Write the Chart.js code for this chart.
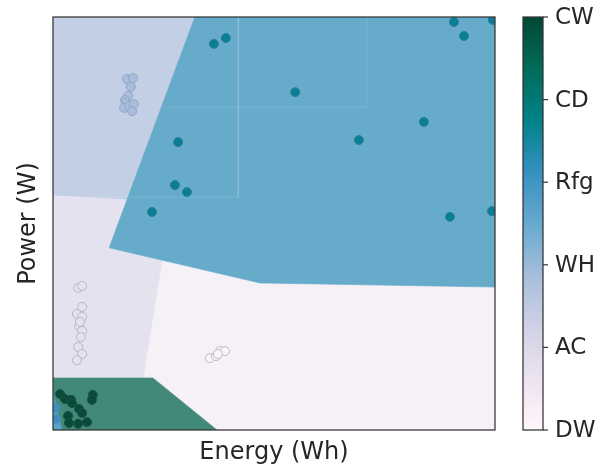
<!DOCTYPE html>
<html>
<head>
<meta charset="utf-8">
<script src="https://cdn.jsdelivr.net/npm/chart.js@4.4.1/dist/chart.umd.min.js"></script>
<style>
  html, body { margin: 0; padding: 0; background: #ffffff; }
  #wrap { width: 607px; height: 466px; }
</style>
</head>
<body>
<div id="wrap"><canvas id="chart" width="607" height="466"></canvas></div>
<script>
// Appliance classes shown on the colour bar (bottom to top)
const classLabels = ['DW', 'AC', 'WH', 'Rfg', 'CD', 'CW'];
// PuBuGn colour map stops used by the colour bar
const colorStops = ['#fff7fb', '#ece2f0', '#d0d1e6', '#a6bddb', '#67a9cf', '#3690c0', '#02818a', '#016c59', '#014636'];

// Decision regions of the classifier, as polygons in (energy, power) space
const regionDW = [[0, 0], [100, 0], [100, 100], [0, 100]];
const regionAC = [[0, 56.9], [17.0, 55.9], [12.7, 44.1], [24.7, 41.2], [20.4, 12.6], [0, 12.6]];
const regionWH = [[0, 100], [32.1, 100], [17.0, 55.9], [0, 56.9]];
const regionRfg = [[32.1, 100], [100, 100], [100, 34.6], [46.8, 35.6], [12.7, 44.1]];
const regionCW = [[0, 12.6], [22.6, 12.6], [37.1, 0], [0, 0]];
const regionRfgCorner = [[0, 8.96], [2.0, 0], [0, 0]];

// Faint seams left by the region tiles
const seams = [
  [[41.9, 100], [41.9, 56.4], [0, 56.4]],
  [[24.9, 78.2], [71.0, 78.2], [71.0, 100]],
  [[0, 18.9], [21.0, 18.9]]
];

// Measured samples per class: [energy, power]
const samplesDW = [[35.5, 17.4], [36.9, 17.9], [37.8, 19.1], [38.9, 19.1], [37.3, 18.4]];
const samplesAC = [[5.7, 34.4], [6.6, 34.9], [6.6, 29.8], [5.4, 28.1], [6.6, 27.4], [5.9, 25.2], [6.1, 26.2],
                   [6.6, 24.0], [6.3, 22.5], [5.7, 20.1], [6.6, 18.4], [5.4, 16.9]];
const samplesWH = [[16.7, 85.0], [18.1, 85.2], [17.6, 83.1], [17.0, 80.9], [16.3, 79.9], [16.5, 79.2],
                   [16.1, 78.0], [17.2, 78.5], [18.3, 78.9], [17.9, 77.2]];
const samplesRfg = [[0.5, 5.3], [0.7, 2.7]];
const samplesCD = [[36.4, 93.5], [39.1, 94.9], [28.3, 69.7], [27.6, 59.3], [30.3, 57.6], [22.4, 52.8],
                   [54.8, 81.8], [69.2, 70.2], [83.9, 74.6], [90.7, 98.8], [93.0, 95.4], [99.5, 99.3],
                   [89.8, 51.6], [99.3, 53.0]];
const samplesCW = [[1.6, 8.7], [2.7, 7.5], [4.1, 7.3], [4.3, 6.5], [9.0, 8.5], [8.8, 7.3], [5.9, 5.1],
                   [6.6, 4.1], [3.4, 3.4], [3.6, 1.7], [5.7, 1.5], [7.7, 1.9]];

const toXY = arr => arr.map(p => ({ x: p[0], y: p[1] }));
const closed = arr => toXY(arr.concat([arr[0]]));

function region(data, color, order) {
  return {
    type: 'line', data: closed(data), order,
    backgroundColor: color, borderColor: color, borderWidth: 0.6,
    fill: 'shape', pointRadius: 0, tension: 0, clip: 0
  };
}
function seam(data) {
  return {
    type: 'line', data: toXY(data), order: 4,
    borderColor: 'rgba(255,255,255,0.13)', borderWidth: 1,
    fill: false, pointRadius: 0, tension: 0, clip: 0
  };
}
function samples(data, fill, edge) {
  return {
    type: 'scatter', data: toXY(data), order: 1,
    backgroundColor: fill, borderColor: edge, borderWidth: 1,
    pointRadius: 4.5, pointHoverRadius: 4.5, clip: 0
  };
}

const FONT = "'DejaVu Sans', sans-serif";
const TEXT = '#262626';

const decor = {
  id: 'decor',
  afterDatasetsDraw(chart) {
    const { ctx, chartArea: a } = chart;
    ctx.save();
    ctx.strokeStyle = '#333333';
    ctx.lineWidth = 1.25;
    ctx.strokeRect(a.left, a.top, a.right - a.left, a.bottom - a.top);
    ctx.restore();
  },
  afterDraw(chart) {
    const { ctx, chartArea: a } = chart;
    ctx.save();
    // colour bar
    const x0 = a.right + 28, w = 20;
    const g = ctx.createLinearGradient(0, a.bottom, 0, a.top);
    colorStops.forEach((c, i) => g.addColorStop(i / (colorStops.length - 1), c));
    ctx.fillStyle = g;
    ctx.fillRect(x0, a.top, w, a.bottom - a.top);
    ctx.strokeStyle = '#333333';
    ctx.lineWidth = 1.25;
    ctx.strokeRect(x0, a.top, w, a.bottom - a.top);
    ctx.font = '23px ' + FONT;
    ctx.fillStyle = TEXT;
    ctx.textAlign = 'left';
    ctx.textBaseline = 'middle';
    classLabels.forEach((lab, i) => {
      const y = a.bottom - i / (classLabels.length - 1) * (a.bottom - a.top);
      ctx.beginPath();
      ctx.moveTo(x0 + w, y);
      ctx.lineTo(x0 + w + 5, y);
      ctx.strokeStyle = '#333333';
      ctx.lineWidth = 1.2;
      ctx.stroke();
      ctx.fillText(lab, x0 + w + 12, y + 1);
    });
    // axis titles
    ctx.font = '24px ' + FONT;
    ctx.textAlign = 'center';
    ctx.textBaseline = 'middle';
    ctx.fillText('Energy (Wh)', (a.left + a.right) / 2, a.bottom + 23);
    ctx.translate(a.left - 24, (a.top + a.bottom) / 2);
    ctx.rotate(-Math.PI / 2);
    ctx.fillText('Power (W)', 0, 0);
    ctx.restore();
  }
};

new Chart(document.getElementById('chart'), {
  type: 'scatter',
  data: {
    datasets: [
      samples(samplesDW, '#f8f4f8', '#bcbcc2'),
      samples(samplesAC, '#e4e2ef', '#b7b7c4'),
      samples(samplesWH, '#a9bedc', '#93a7c6'),
      samples(samplesRfg, '#3a8fc0', '#4a93bd'),
      samples(samplesCD, '#0a7e96', '#2b7f93'),
      samples(samplesCW, '#0a4a3a', '#1b5344'),
      ...seams.map(seam),
      region(regionRfgCorner, '#5aa3c8', 5),
      region(regionCW, '#42897a', 6),
      region(regionRfg, '#67abcb', 7),
      region(regionWH, '#c3cfe4', 8),
      region(regionAC, '#e4e2ef', 9),
      region(regionDW, '#f6f1f7', 10)
    ]
  },
  options: {
    responsive: false,
    animation: false,
    events: [],
    layout: { padding: { left: 53, top: 17, right: 112, bottom: 36 } },
    scales: {
      x: { type: 'linear', min: 0, max: 100, display: false },
      y: { type: 'linear', min: 0, max: 100, display: false }
    },
    plugins: { legend: { display: false }, tooltip: { enabled: false } }
  },
  plugins: [decor]
});
</script>
</body>
</html>
